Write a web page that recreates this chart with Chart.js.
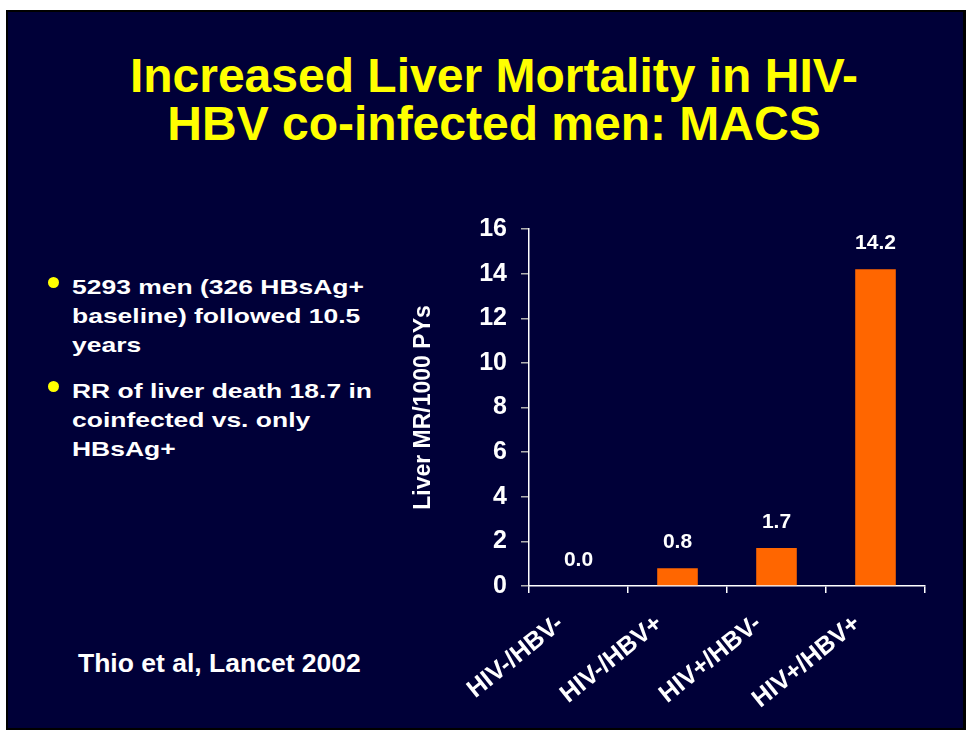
<!DOCTYPE html>
<html>
<head>
<meta charset="utf-8">
<script src="https://cdn.jsdelivr.net/npm/chart.js@4"></script>
<style>
  html, body { margin: 0; padding: 0; background: #fff; }
  body { width: 966px; height: 730px; position: relative; overflow: hidden; font-family: "Liberation Sans", Arial, sans-serif; }
  .slide { position: absolute; left: 6px; top: 10px; width: 960px; height: 720px; box-sizing: border-box; border: 2px solid #000; border-right-width: 3px; background: #000038; }
  .title { position: absolute; left: 0; top: 52px; width: 988px; text-align: center; color: #ffff00; font-weight: bold; font-size: 48px; line-height: 48px; }
  .bullet { position: absolute; left: 72px; color: #fff; font-weight: bold; font-size: 21px; line-height: 29px; transform: scaleX(1.26); transform-origin: left top; white-space: nowrap; }
  .dot { position: absolute; width: 11px; height: 11px; border-radius: 50%; background: #ffff00; left: 48px; }
  .ref { position: absolute; left: 78px; top: 648px; color: #fff; font-weight: bold; font-size: 26.5px; line-height: 30px; white-space: nowrap; }
  #chart { position: absolute; left: 0; top: 0; }
</style>
</head>
<body>
<div class="slide"></div>
<div class="title">Increased Liver Mortality in HIV-<br>HBV co-infected men: MACS</div>
<div class="dot" style="top: 277px"></div>
<div class="bullet" style="top: 272px">5293 men (326 HBsAg+<br>baseline) followed 10.5<br>years</div>
<div class="dot" style="top: 381px"></div>
<div class="bullet" style="top: 376px">RR of liver death 18.7 in<br>coinfected vs. only<br>HBsAg+</div>
<div class="ref">Thio et al, Lancet 2002</div>
<canvas id="chart" width="966" height="730"></canvas>
<script>
const groups = ['HIV-/HBV-', 'HIV-/HBV+', 'HIV+/HBV-', 'HIV+/HBV+'];
const mortality = [0.0, 0.8, 1.7, 14.2];
const yTicks = [0, 2, 4, 6, 8, 10, 12, 14, 16];
const yTitle = 'Liver MR/1000 PYs';

const valueLabels = {
  id: 'valueLabels',
  afterDatasetsDraw(chart) {
    const ctx = chart.ctx;
    const meta = chart.getDatasetMeta(0);
    ctx.save();
    ctx.fillStyle = '#ffffff';
    ctx.font = 'bold 21px "Liberation Sans", Arial, sans-serif';
    ctx.textAlign = 'center';
    ctx.textBaseline = 'middle';
    meta.data.forEach((bar, i) => {
      ctx.fillText(mortality[i].toFixed(1), bar.x, bar.y - 26);
    });
    ctx.restore();
  }
};

new Chart(document.getElementById('chart'), {
  type: 'bar',
  data: {
    labels: groups,
    datasets: [{
      data: mortality,
      backgroundColor: '#ff6600',
      borderWidth: 0,
      categoryPercentage: 1,
      barPercentage: 0.41
    }]
  },
  options: {
    responsive: false,
    animation: false,
    events: [],
    layout: { padding: { left: 400, right: 41, top: 229, bottom: 0 } },
    plugins: { legend: { display: false }, tooltip: { enabled: false } },
    scales: {
      x: {
        afterFit: (s) => { s.height = 144; },
        border: { color: '#ffffff', width: 1.5 },
        grid: { drawOnChartArea: false, tickLength: 7, color: '#ffffff', lineWidth: 1.5, offset: true },
        ticks: {
          color: '#ffffff',
          font: { family: '"Liberation Sans", Arial, sans-serif', size: 25, weight: 'bold' },
          minRotation: 39,
          maxRotation: 39,
          padding: 16,
          labelOffset: -18,
          autoSkip: false
        }
      },
      y: {
        min: 0,
        max: 16,
        afterFit: (s) => { s.width = 129; },
        afterBuildTicks: (s) => { s.ticks = yTicks.map((v) => ({ value: v })); },
        border: { color: '#ffffff', width: 1.5 },
        grid: { drawOnChartArea: false, tickLength: 8, color: '#b0b0b0', lineWidth: 1.5 },
        ticks: {
          color: '#ffffff',
          font: { family: '"Liberation Sans", Arial, sans-serif', size: 25, weight: 'bold' },
          padding: 14
        },
        title: {
          display: true,
          text: yTitle,
          color: '#ffffff',
          font: { family: '"Liberation Sans", Arial, sans-serif', size: 23, weight: 'bold' },
          padding: { top: 10, bottom: 0 }
        }
      }
    }
  },
  plugins: [valueLabels]
});
</script>
</body>
</html>
